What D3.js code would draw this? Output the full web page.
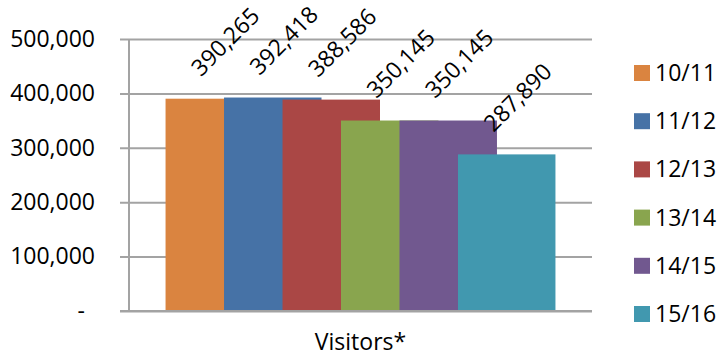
<!DOCTYPE html>
<html>
<head>
<meta charset="utf-8">
<script src="https://cdn.jsdelivr.net/npm/d3@7"></script>
<style>
  html, body { margin: 0; padding: 0; background: #fff; }
  svg { display: block; font-family: "Open Sans", sans-serif; }
</style>
</head>
<body>
<svg id="chart" width="721" height="356"></svg>
<script>
// chart data
var categories = ["Visitors*"];
var seriesNames = ["10/11", "11/12", "12/13", "13/14", "14/15", "15/16"];
var seriesValues = [390265, 392418, 388586, 350145, 350145, 287890];
var seriesColors = ["#DA8440", "#4672A6", "#AA4745", "#89A54E", "#71588F", "#4198AF"];
var yTicks = [0, 100000, 200000, 300000, 400000, 500000];

var svg = d3.select("#chart"),
    margin = {top: 39, right: 129, bottom: 45, left: 129},
    width = 721 - margin.left - margin.right,
    height = 356 - margin.top - margin.bottom,
    g = svg.append("g").attr("transform", "translate(" + margin.left + "," + margin.top + ")");

var y = d3.scaleLinear()
    .domain([0, 500000])
    .range([height, 0]);

var xCat = d3.scaleBand()
    .domain(categories)
    .range([0, width]);

// excel style clustered columns: gap width 75%, overlap 40%
var gapWidth = 0.75, overlap = 0.4, n = seriesNames.length;
var barW = xCat.bandwidth() / (1 + (n - 1) * (1 - overlap) + gapWidth);
var start = xCat(categories[0]) + gapWidth * barW / 2;
var xSer = d3.scaleLinear()
    .domain([0, n - 1])
    .range([start, start + (n - 1) * (1 - overlap) * barW]);

var data = seriesNames.map(function(s, i) {
  return {name: s, value: seriesValues[i], color: seriesColors[i], i: i};
});

// gridlines + y labels
var yAxis = g.append("g")
    .attr("class", "axis")
    .call(d3.axisLeft(y)
      .tickValues(yTicks)
      .tickSize(-width)
      .tickPadding(34)
      .tickFormat(function(d) { return d === 0 ? "-" : d3.format(",")(d); })
    );
yAxis.select(".domain").remove();
yAxis.selectAll(".tick line")
    .attr("x1", -9)
    .attr("stroke", "#a3a3a3")
    .attr("stroke-width", 2);
yAxis.selectAll(".tick text")
    .attr("fill", "#000")
    .attr("font-size", 23)
    .attr("font-family", "Open Sans, sans-serif")
    .attr("dx", function(d) { return d === 0 ? -10 : 0; });

// vertical axis line
g.append("line")
    .attr("x1", 0).attr("x2", 0)
    .attr("y1", y(500000)).attr("y2", y(0))
    .attr("stroke", "#a3a3a3")
    .attr("stroke-width", 2);

// bars
g.append("g")
  .selectAll("rect")
  .data(data)
  .enter().append("rect")
    .attr("x", function(d) { return xSer(d.i); })
    .attr("y", function(d) { return y(d.value); })
    .attr("width", barW)
    .attr("height", function(d) { return y(0) - y(d.value); })
    .attr("fill", function(d) { return d.color; });

// redraw bottom axis line over the bars
g.append("line")
    .attr("x1", -9).attr("x2", width)
    .attr("y1", y(0)).attr("y2", y(0))
    .attr("stroke", "#a3a3a3")
    .attr("stroke-width", 2);

// rotated value labels
g.append("g")
  .selectAll("text")
  .data(data)
  .enter().append("text")
    .attr("transform", function(d) {
      var cx = xSer(d.i) + barW / 2 + 11, cy = y(d.value) - 57;
      return "translate(" + cx + "," + cy + ") rotate(-45)";
    })
    .attr("text-anchor", "middle")
    .attr("dy", "0.35em")
    .attr("font-size", 23)
    .attr("fill", "#000")
    .text(function(d) { return d3.format(",")(d.value); });

// category label
g.append("text")
    .attr("x", xCat(categories[0]) + xCat.bandwidth() / 2)
    .attr("y", height + 39)
    .attr("text-anchor", "middle")
    .attr("font-size", 23)
    .attr("fill", "#000")
    .text(categories[0]);

// legend
var ly = d3.scalePoint()
    .domain(seriesNames)
    .range([73, 314]);

var legend = svg.append("g")
  .selectAll("g")
  .data(data)
  .enter().append("g")
    .attr("transform", function(d) { return "translate(634," + ly(d.name) + ")"; });

legend.append("rect")
    .attr("x", 0)
    .attr("y", -8)
    .attr("width", 16)
    .attr("height", 16)
    .attr("fill", function(d) { return d.color; });

legend.append("text")
    .attr("x", 21)
    .attr("dy", "0.35em")
    .attr("font-size", 23)
    .attr("fill", "#000")
    .text(function(d) { return d.name; });
</script>
</body>
</html>
